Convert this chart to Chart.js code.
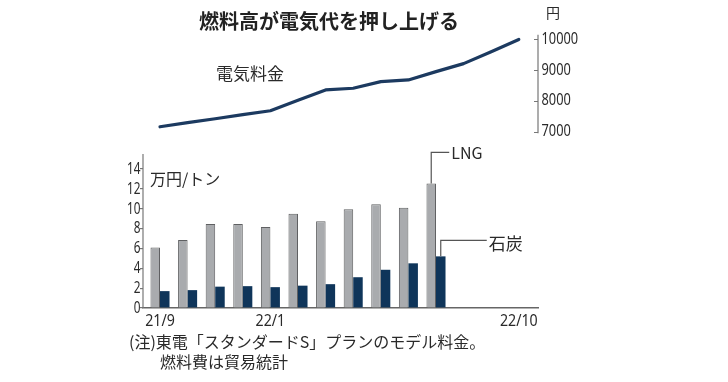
<!DOCTYPE html>
<html>
<head>
<meta charset="utf-8">
<script src="https://cdn.jsdelivr.net/npm/chart.js@4"></script>
<style>
html,body{margin:0;padding:0;background:#fff;}
#wrap{width:728px;height:382px;position:relative;}
</style>
</head>
<body>
<div id="wrap"><canvas id="c" width="728" height="382"></canvas></div>
<script>
// ---- data ----
const months = ['21/9','21/10','21/11','21/12','22/1','22/2','22/3','22/4','22/5','22/6','22/7','22/8','22/9','22/10'];
const electricity = [7160, 7295, 7420, 7555, 7680, 8020, 8355, 8410, 8625, 8680, 8950, 9210, 9595, 9995];
const lng = [6.1, 6.85, 8.45, 8.45, 8.15, 9.5, 8.75, 9.95, 10.45, 10.1, 12.55];
const coal = [1.7, 1.8, 2.15, 2.2, 2.1, 2.25, 2.4, 3.1, 3.85, 4.5, 5.2];
const leftTicks = [0, 2, 4, 6, 8, 10, 12, 14];
const rightTicks = [7000, 8000, 9000, 10000];
const xTickIdx = [0, 4, 13];

const NUM = "'Noto Sans','Noto Sans CJK JP',sans-serif";
const JP = "'Noto Sans CJK JP','Noto Sans',sans-serif";
const TXT = '#2a2a2a';

const pts = arr => arr.map((v, i) => ({x: i, y: v}));

// condensed text helper (reference uses a narrow face)
function condText(ctx, text, x, y, align, size, sx) {
  ctx.save();
  ctx.font = size + 'px ' + NUM;
  ctx.textBaseline = 'middle';
  ctx.textAlign = align;
  ctx.translate(x, y);
  ctx.scale(sx, 1);
  ctx.fillText(text, 0, 0);
  ctx.restore();
}

const overlay = {
  id: 'overlay',
  afterDraw(chart) {
    const ctx = chart.ctx;
    const a = chart.chartArea;
    const yL = chart.scales.yL, yR = chart.scales.yR, x = chart.scales.x;
    ctx.save();
    // left axis line
    ctx.strokeStyle = '#777'; ctx.lineWidth = 1.2;
    ctx.beginPath();
    ctx.moveTo(a.left, yL.getPixelForValue(15.5));
    ctx.lineTo(a.left, a.bottom);
    ctx.stroke();
    // right axis line + inward ticks
    ctx.beginPath();
    ctx.moveTo(a.right, yR.getPixelForValue(10150));
    ctx.lineTo(a.right, yR.getPixelForValue(6950));
    yR.ticks.forEach(t => {
      const y = Math.round(yR.getPixelForValue(t.value)) + 0.5;
      ctx.moveTo(a.right - 4, y); ctx.lineTo(a.right, y);
    });
    ctx.stroke();

    // tick labels from the library's scales
    ctx.fillStyle = TXT;
    yL.ticks.forEach(t => condText(ctx, String(t.value), a.left - 2.5, yL.getPixelForValue(t.value) + 0.5, 'right', 15.5, 0.76));
    yR.ticks.forEach(t => condText(ctx, String(t.value), a.right + 3.5, yR.getPixelForValue(t.value), 'left', 16, 0.8));
    x.ticks.forEach(t => condText(ctx, months[t.value], x.getPixelForValue(t.value), a.bottom + 13, 'center', 16.5, 0.86));

    // leaders
    const gBar = chart.getDatasetMeta(0).data[lng.length - 1];
    const cBar = chart.getDatasetMeta(1).data[coal.length - 1];
    ctx.strokeStyle = '#555'; ctx.lineWidth = 1.2;
    ctx.beginPath();
    ctx.moveTo(gBar.x, gBar.y);
    ctx.lineTo(gBar.x, gBar.y - 31);
    ctx.lineTo(gBar.x + 18, gBar.y - 31);
    ctx.moveTo(cBar.x, cBar.y);
    ctx.lineTo(cBar.x, cBar.y - 16);
    ctx.lineTo(cBar.x + 46, cBar.y - 16);
    ctx.stroke();

    ctx.fillStyle = TXT;
    ctx.textBaseline = 'middle';
    ctx.textAlign = 'left';
    ctx.font = '16px ' + JP;
    ctx.fillText('LNG', gBar.x + 20, gBar.y - 30);
    ctx.font = '17px ' + JP;
    ctx.fillText('石炭', cBar.x + 48, cBar.y - 13);

    // title
    ctx.textAlign = 'center';
    ctx.font = 'bold 20px ' + JP;
    ctx.fillStyle = '#222';
    ctx.fillText('燃料高が電気代を押し上げる', 329, 21);

    ctx.textAlign = 'left';
    ctx.fillStyle = TXT;
    ctx.font = '17px ' + JP;
    ctx.fillText('電気料金', 216, 74);
    ctx.font = '16px ' + JP;
    ctx.fillText('万円/トン', 150, 179);
    ctx.font = '14px ' + JP;
    ctx.fillText('円', 546, 13);

    ctx.font = '16px ' + JP;
    ctx.fillText('(注)東電「スタンダードS」プランのモデル料金。', 129, 342);
    ctx.fillText('燃料費は貿易統計', 160, 362);
    ctx.restore();
  }
};

new Chart(document.getElementById('c'), {
  type: 'bar',
  data: {
    datasets: [
      {
        label: 'LNG', type: 'bar', yAxisID: 'yL', xAxisID: 'x',
        data: pts(lng),
        backgroundColor: '#a9abae', borderColor: '#5f6062', borderWidth: 1,
        categoryPercentage: 0.69, barPercentage: 1
      },
      {
        label: '石炭', type: 'bar', yAxisID: 'yL', xAxisID: 'x',
        data: pts(coal),
        backgroundColor: '#0f355a', borderColor: '#0f355a', borderWidth: 0,
        categoryPercentage: 0.69, barPercentage: 1
      },
      {
        label: '電気料金', type: 'line', yAxisID: 'yR', xAxisID: 'x',
        data: pts(electricity),
        borderColor: '#1c3a60', borderWidth: 3.2, pointRadius: 0, tension: 0, fill: false,
        borderCapStyle: 'round', borderJoinStyle: 'round'
      }
    ]
  },
  options: {
    responsive: false,
    animation: false,
    events: [],
    layout: {padding: {top: 30, left: 0, right: 0, bottom: 0}},
    plugins: {legend: {display: false}, tooltip: {enabled: false}, title: {display: false}},
    scales: {
      x: {
        type: 'linear', offset: false,
        min: -0.616, max: 13.696,
        afterBuildTicks: s => { s.ticks = xTickIdx.map(v => ({value: v})); },
        afterFit: s => { s.height = 74; },
        grid: {display: false, drawTicks: false, offset: false},
        border: {display: true, color: '#666', width: 1.5},
        ticks: {display: false}
      },
      yL: {
        type: 'linear', position: 'left',
        min: 0, max: 28,
        afterBuildTicks: s => { s.ticks = leftTicks.map(v => ({value: v})); },
        afterFit: s => { s.width = 143; },
        grid: {display: true, drawOnChartArea: false, drawTicks: true, tickLength: 3, color: '#777', lineWidth: 1.2},
        border: {display: false},
        ticks: {display: false}
      },
      yR: {
        type: 'linear', position: 'right',
        min: 1276, max: 10302,
        afterBuildTicks: s => { s.ticks = rightTicks.map(v => ({value: v})); },
        afterFit: s => { s.width = 190; },
        grid: {display: false, drawTicks: false},
        border: {display: false},
        ticks: {display: false}
      }
    }
  },
  plugins: [overlay]
});
</script>
</body>
</html>
